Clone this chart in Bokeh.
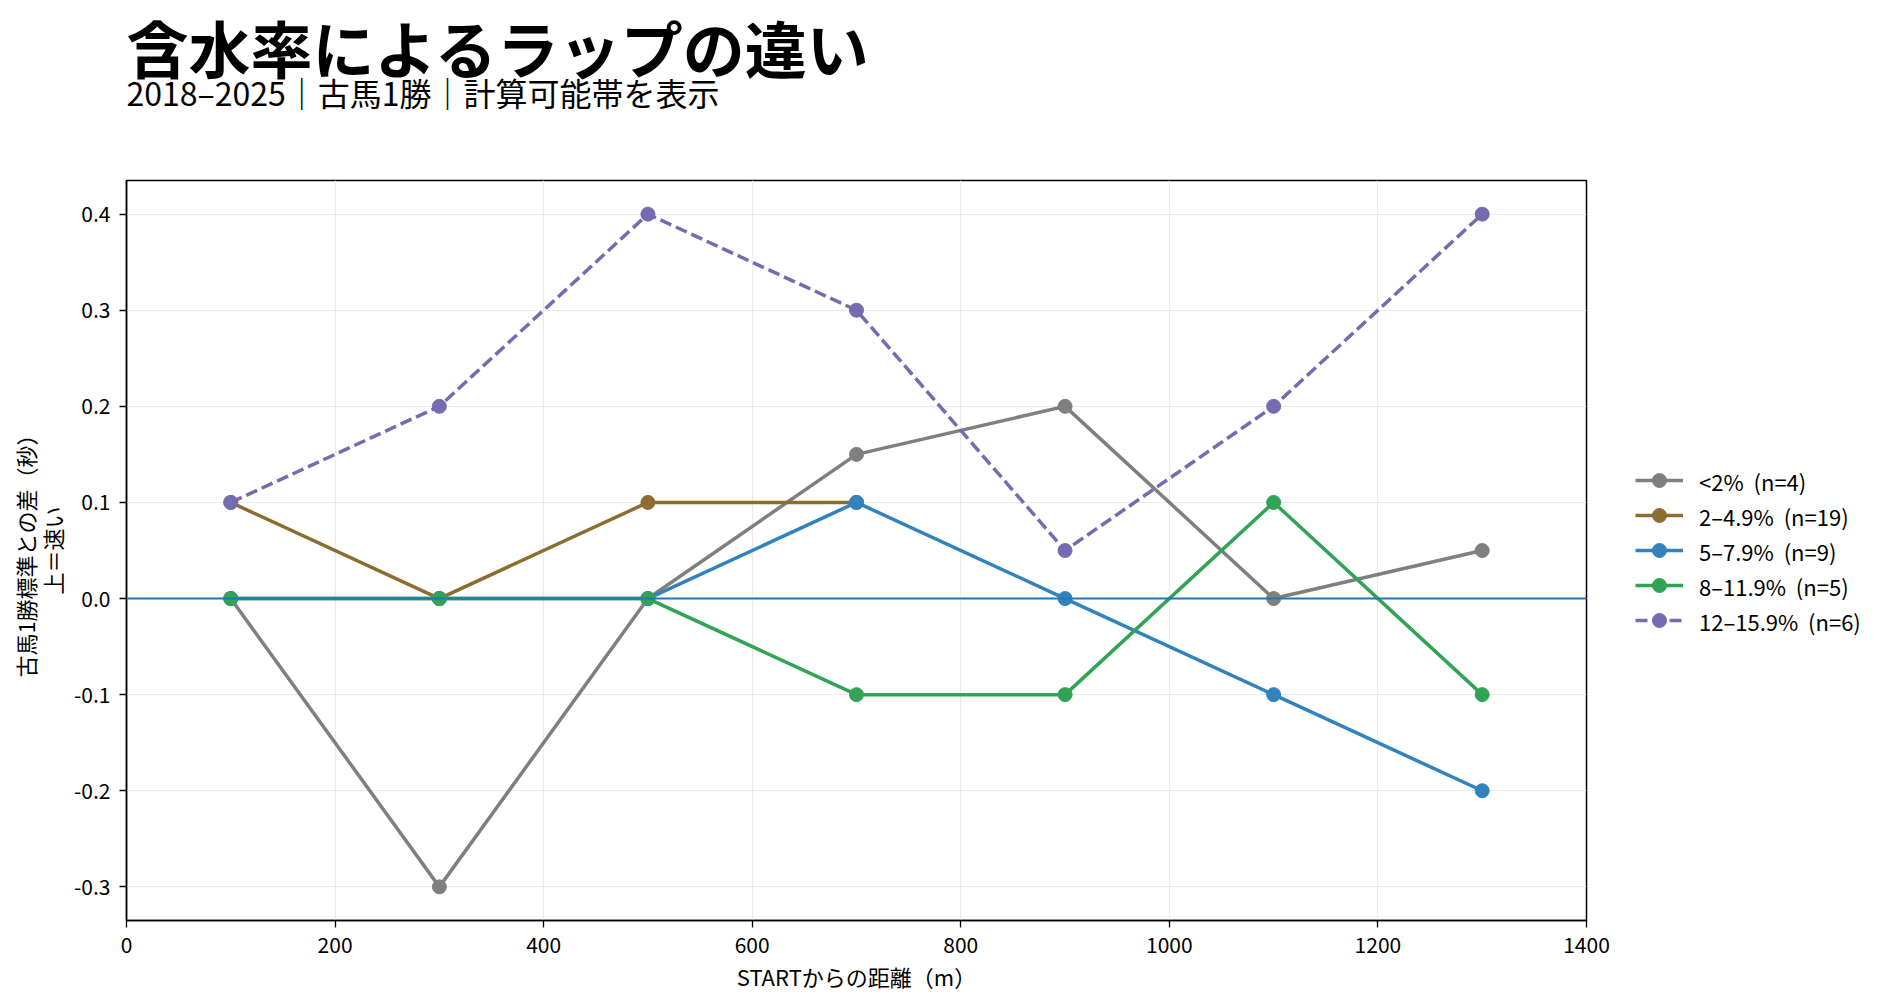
from bokeh.embed import file_html
from bokeh.resources import INLINE
from bokeh.plotting import figure
from bokeh.models import Legend, LegendItem, Span, Title, FixedTicker

# distance from START (m)
distances = [100, 300, 500, 700, 900, 1100, 1300]

# difference to the 古馬1勝 standard (s), one list per moisture band
lt2 = [0.0, -0.3, 0.0, 0.15, 0.2, 0.0, 0.05]
b2_49 = [0.1, 0.0, 0.1, 0.1, float("nan"), float("nan"), float("nan")]
b5_79 = [0.0, 0.0, 0.0, 0.1, 0.0, -0.1, -0.2]
b8_119 = [0.0, 0.0, 0.0, -0.1, -0.1, 0.1, -0.1]
b12_159 = [0.1, 0.2, 0.4, 0.3, 0.05, 0.2, 0.4]

series_labels = ["<2%  (n=4)", "2–4.9%  (n=19)", "5–7.9%  (n=9)",
                 "8–11.9%  (n=5)", "12–15.9%  (n=6)"]
series_values = [lt2, b2_49, b5_79, b8_119, b12_159]
series_colors = ["#7f7f7f", "#8c6d31", "#3182bd", "#31a354", "#756bb1"]
series_dash = ["solid", "solid", "solid", "solid", "12 5"]

x_ticks = [0, 200, 400, 600, 800, 1000, 1200, 1400]
y_ticks = [-0.3, -0.2, -0.1, 0.0, 0.1, 0.2, 0.3, 0.4]
y_tick_labels = ["-0.3", "-0.2", "-0.1", "0.0", "0.1", "0.2", "0.3", "0.4"]

FONT = "Noto Sans CJK JP"

p = figure(frame_width=1460, frame_height=740,
           x_range=(0, 1400), y_range=(-0.335, 0.435),
           output_backend="svg", toolbar_location=None, tools="",
           min_border_left=126, min_border_top=0,
           min_border_right=270, min_border_bottom=60)

# header: spacer, subtitle, title, top spacer (each stacks above the previous)
p.add_layout(Title(text=" ", text_font_size="1px", standoff=63), "above")
p.add_layout(Title(text="2018–2025｜古馬1勝｜計算可能帯を表示",
                   text_font=FONT, text_font_size="32px", text_color="black",
                   text_font_style="normal", standoff=0), "above")
p.add_layout(Title(text="含水率によるラップの違い",
                   text_font=FONT, text_font_size="62px", text_color="black",
                   text_font_style="bold", standoff=-51), "above")
p.add_layout(Title(text=" ", text_font_size="1px", standoff=22), "above")

items = []
for label, ys, color, dash in zip(series_labels, series_values,
                                  series_colors, series_dash):
    ln = p.line(distances, ys, line_color=color, line_width=3.5,
                line_dash=dash)
    pts = p.scatter(distances, ys, size=14, fill_color=color,
                    line_color=color)
    items.append(LegendItem(label=label, renderers=[ln, pts]))

# zero line
p.add_layout(Span(location=0, dimension="width", line_color="#1f77b4",
                  line_width=2))

legend = Legend(items=items, location="center_left",
                border_line_color=None, background_fill_alpha=0,
                label_text_font=FONT, label_text_font_size="22px",
                label_text_color="black",
                glyph_width=48, glyph_height=35, label_height=35,
                label_standoff=16, spacing=0, padding=0, margin=49)
p.add_layout(legend, "right")

p.outline_line_color = "black"
p.outline_line_width = 1.5
p.grid.grid_line_color = "#ebebeb"
p.grid.grid_line_width = 1.2

p.xaxis.ticker = FixedTicker(ticks=x_ticks)
p.yaxis.ticker = FixedTicker(ticks=y_ticks)
p.yaxis.major_label_overrides = dict(zip(y_ticks, y_tick_labels))

p.xaxis.axis_label = "STARTからの距離（m）"
p.yaxis.axis_label = "古馬1勝標準との差（秒）\n上＝速い"

for ax in (p.xaxis[0], p.yaxis[0]):
    ax.axis_line_color = "black"
    ax.axis_line_width = 1.5
    ax.major_tick_line_color = "black"
    ax.major_tick_line_width = 1.3
    ax.major_tick_in = 0
    ax.major_tick_out = 7
    ax.minor_tick_line_color = None
    ax.major_label_text_font = FONT
    ax.major_label_text_font_size = "21px"
    ax.major_label_text_color = "black"
    ax.axis_label_text_font = FONT
    ax.axis_label_text_font_size = "22px"
    ax.axis_label_text_font_style = "normal"
    ax.axis_label_text_color = "black"
    ax.axis_label_text_line_height = 0.85
    ax.major_label_standoff = 9

p.xaxis.axis_label_standoff = 4
p.yaxis.axis_label_standoff = 3

open("out.html", "w").write(file_html(p, INLINE))
